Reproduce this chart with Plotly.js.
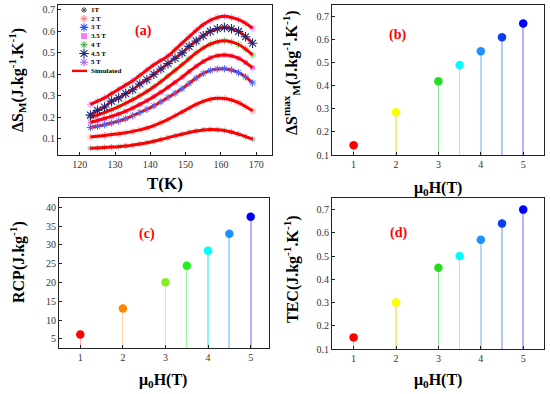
<!DOCTYPE html>
<html><head><meta charset="utf-8">
<script src="https://cdn.plot.ly/plotly-3.0.1.min.js"></script>
<style>body{margin:0;background:#fff}#chart{width:550px;height:394px}</style>
</head><body><div id="chart"></div>
<script>
// ---- Data ----
const T = [123,125,127,129,131,133,135,137,139,141,143,145,147,149,151,153,155,157,159,161,163,165,167,169];
const ds1T  = [0.055,0.057,0.059,0.061,0.063,0.066,0.070,0.075,0.081,0.088,0.096,0.105,0.113,0.121,0.129,0.136,0.141,0.143,0.142,0.138,0.131,0.121,0.110,0.098];
const ds2T  = [0.108,0.111,0.115,0.119,0.123,0.128,0.134,0.141,0.150,0.161,0.175,0.190,0.207,0.225,0.243,0.260,0.274,0.284,0.288,0.287,0.280,0.268,0.250,0.230];
const ds3T  = [0.152,0.158,0.165,0.173,0.182,0.193,0.207,0.222,0.237,0.253,0.272,0.292,0.312,0.333,0.358,0.383,0.404,0.418,0.425,0.426,0.420,0.408,0.388,0.360];
const ds35T = [0.177,0.185,0.194,0.204,0.215,0.228,0.243,0.260,0.277,0.296,0.317,0.340,0.363,0.387,0.413,0.438,0.460,0.477,0.487,0.490,0.486,0.475,0.455,0.430];
const ds4T  = [0.200,0.210,0.222,0.235,0.249,0.265,0.282,0.300,0.320,0.342,0.366,0.392,0.418,0.445,0.473,0.500,0.523,0.541,0.552,0.556,0.551,0.539,0.518,0.490];
const ds45T = [0.210,0.232,0.248,0.275,0.290,0.310,0.328,0.355,0.375,0.400,0.425,0.450,0.475,0.500,0.530,0.555,0.580,0.600,0.612,0.618,0.612,0.600,0.575,0.545];
const ds5T  = [0.260,0.275,0.290,0.310,0.330,0.350,0.370,0.395,0.420,0.445,0.465,0.485,0.515,0.545,0.575,0.605,0.632,0.652,0.665,0.670,0.665,0.655,0.638,0.615];
const fieldLabels = ['1T','2 T','3 T','3.5 T','4 T','4.5 T','5 T'];
const simLabel = 'Simulated';

const H = [1,2,3,3.5,4,4.5,5];
const dsMax = [0.142,0.285,0.42,0.49,0.55,0.61,0.67];
const rcp   = [6.2,13.1,20.1,24.5,28.5,33,37.5];
const tec   = [0.15,0.30,0.45,0.50,0.57,0.64,0.70];

// ---- Styles ----
const colorsBD = ['#ff0000','#ffff00','#22dd22','#00ffff','#1e90ff','#0a3cf5','#0000ff'];
const colorsC  = ['#ff0000','#ff8800','#88ee22','#22ee22','#00ffff','#1e90ff','#0000ff'];
const stemsBD  = ['rgba(255,0,0,0.35)','rgba(220,220,0,0.45)','rgba(34,200,34,0.5)','rgba(0,230,230,0.45)','rgba(30,144,255,0.35)','rgba(10,60,245,0.3)','rgba(0,0,255,0.3)'];
const stemsC   = ['rgba(255,0,0,0.3)','rgba(255,136,0,0.35)','rgba(136,238,34,0.45)','rgba(34,238,34,0.45)','rgba(0,230,230,0.45)','rgba(30,144,255,0.35)','rgba(0,0,255,0.3)'];
const stemW    = [0.025,0.025,0.03,0.03,0.04,0.05,0.05];

const mk = [
  {symbol:'asterisk-open', size:5, color:'#555555', w:1},
  {symbol:'asterisk-open', size:6, color:'#ff7a7a', w:1},
  {symbol:'asterisk-open', size:7, color:'#2f4dff', w:1.1},
  {symbol:'square', size:3.5, color:'#ff77ff', w:0},
  {symbol:'asterisk-open', size:6, color:'#33aa33', w:1},
  {symbol:'asterisk-open', size:8, color:'#1a2a80', w:1.1},
  {symbol:'asterisk-open', size:7, color:'#9955ff', w:1}
];
const mkPlot = [
  {size:5, color:'#999999'}, {size:6, color:'#ffaaaa'}, null, {size:4, color:'#ff88ff'},
  {size:6, color:'#77cc77'}, null, {size:6, color:'#dd99ff'}
];
const series = [ds1T, ds2T, ds3T, ds35T, ds4T, ds45T, ds5T];
const FONT = 'Liberation Serif, Times New Roman, serif';

const traces = [];
// faint measured markers (under the curves)
[0,1,3,4,6].forEach(i => traces.push({x:T, y:series[i], type:'scatter', mode:'markers', xaxis:'x', yaxis:'y',
  marker:{symbol:mk[i].symbol, size:mkPlot[i].size, color:mkPlot[i].color, line:{width:1, color:mkPlot[i].color}}, hoverinfo:'skip'}));
// simulated curves
series.forEach(s => traces.push({x:T, y:s, type:'scatter', mode:'lines', xaxis:'x', yaxis:'y',
  line:{color:'#ff0000', width:3, shape:'spline', smoothing:1}, hoverinfo:'skip'}));
// prominent markers on top
traces.push({x:T, y:ds3T, type:'scatter', mode:'markers', xaxis:'x', yaxis:'y',
  marker:{symbol:'asterisk-open', size:6, color:'#4a66ff', line:{width:1, color:'#4a66ff'}}, hoverinfo:'skip'});
traces.push({x:T, y:ds45T, type:'scatter', mode:'markers', xaxis:'x', yaxis:'y',
  marker:{symbol:'asterisk-open', size:8, color:'#1a2a80', line:{width:1.1, color:'#1a2a80'}}, hoverinfo:'skip'});

// stems + points
function stemPanel(vals, stemCols, cols, xa, ya){
  traces.push({x:H, y:vals, type:'bar', width:stemW, xaxis:xa, yaxis:ya, marker:{color:stemCols, line:{width:0}}, hoverinfo:'skip'});
  traces.push({x:H, y:vals, type:'scatter', mode:'markers', xaxis:xa, yaxis:ya, marker:{size:8.5, color:cols}, hoverinfo:'skip'});
}
stemPanel(dsMax, stemsBD, colorsBD, 'x2', 'y2');
stemPanel(rcp, stemsC, colorsC, 'x3', 'y3');
stemPanel(tec, stemsBD, colorsBD, 'x4', 'y4');

// legend for panel (a), drawn on a pixel-scaled overlay axis
const legX = 84, legY0 = 10, legDy = 8.7;
fieldLabels.forEach((lab, i) => traces.push({x:[legX], y:[legY0 + i*legDy], type:'scatter', mode:'markers', xaxis:'x5', yaxis:'y5',
  marker:{symbol:mk[i].symbol, size:Math.max(mk[i].size,5), color:mk[i].color, line:{width:Math.max(mk[i].w,1), color:mk[i].color}}, hoverinfo:'skip'}));
traces.push({x:[72,87], y:[legY0 + 7*legDy, legY0 + 7*legDy], type:'scatter', mode:'lines', xaxis:'x5', yaxis:'y5',
  line:{color:'#ff0000', width:2.4}, hoverinfo:'skip'});

const ax = {showline:true, linecolor:'#222', linewidth:1, mirror:true, ticks:'inside', ticklen:3, tickcolor:'#222',
  tickfont:{family:FONT, size:10, color:'#333'}, showgrid:false, zeroline:false, fixedrange:true};
const dom = (a,b,W) => [a/W, b/W];
const ydom = (top,bot) => [1-bot/394, 1-top/394];

const annotations = [];
const titleFont = {family:FONT, size:16, color:'#000'};
function ann(text, x, y, opts){ annotations.push(Object.assign({text, x, y, xref:'paper', yref:'paper', showarrow:false, xanchor:'center', yanchor:'middle'}, opts)); }
// axis titles
ann('<b>ΔS<sub>M</sub>(J.kg<sup>-1</sup>.K<sup>-1</sup>)</b>', 17/550, 1-80/394, {textangle:-90, font:titleFont});
ann('<b>T(K)</b>', 165/550, 1-183/394, {font:{family:FONT, size:17, color:'#000'}});
ann('<b>ΔS<sup>max</sup><sub>M</sub>(J.kg<sup>-1</sup>.K<sup>-1</sup>)</b>', 291/550, 1-73/394, {textangle:-90, font:titleFont});
ann('<b>μ<sub>0</sub>H(T)</b>', 438/550, 1-188/394, {font:titleFont});
ann('<b>RCP(J.kg<sup>-1</sup>)</b>', 17/550, 1-262/394, {textangle:-90, font:titleFont});
ann('<b>μ<sub>0</sub>H(T)</b>', 163/550, 1-380/394, {font:titleFont});
ann('<b>TEC(J.kg<sup>-1</sup>.K<sup>-1</sup>)</b>', 291/550, 1-269/394, {textangle:-90, font:titleFont});
ann('<b>μ<sub>0</sub>H(T)</b>', 438/550, 1-380/394, {font:titleFont});
// panel letters
const letterFont = {family:FONT, size:14, color:'#ff0000'};
ann('<b>(a)</b>', 143/550, 1-31/394, {font:letterFont});
ann('<b>(b)</b>', 397/550, 1-35/394, {font:letterFont});
ann('<b>(c)</b>', 147/550, 1-234/394, {font:letterFont});
ann('<b>(d)</b>', 398/550, 1-233/394, {font:letterFont});
// legend texts
fieldLabels.concat([simLabel]).forEach((lab, i) => annotations.push({text:'<b>'+lab+'</b>', x:89, y:legY0 + i*legDy, xref:'x5', yref:'y5',
  showarrow:false, xanchor:'left', yanchor:'middle', font:{family:FONT, size:7, color:'#000'}}));

const layout = {
  width:550, height:394, margin:{l:0,r:0,t:0,b:0}, showlegend:false,
  paper_bgcolor:'#fff', plot_bgcolor:'rgba(0,0,0,0)', bargap:0,
  xaxis: Object.assign({}, ax, {domain:dom(58,272,550), anchor:'y', range:[113.8,174.5], tick0:120, dtick:10}),
  yaxis: Object.assign({}, ax, {domain:ydom(5,155), anchor:'x', range:[0.024,0.723], tick0:0, dtick:0.1}),
  xaxis2: Object.assign({}, ax, {domain:dom(332,544,550), anchor:'y2', range:[0.49,5.49], tickvals:[1,2,3,4,5]}),
  yaxis2: Object.assign({}, ax, {domain:ydom(5,155), anchor:'x2', range:[0.1,0.75], tick0:0, dtick:0.1}),
  xaxis3: Object.assign({}, ax, {domain:dom(59,269,550), anchor:'y3', range:[0.5,5.43], tickvals:[1,2,3,4,5]}),
  yaxis3: Object.assign({}, ax, {domain:ydom(198,348), anchor:'x3', range:[2.6,42.5], tick0:0, dtick:5}),
  xaxis4: Object.assign({}, ax, {domain:dom(332,544,550), anchor:'y4', range:[0.49,5.49], tickvals:[1,2,3,4,5]}),
  yaxis4: Object.assign({}, ax, {domain:ydom(198,349), anchor:'x4', range:[0.1,0.75], tick0:0, dtick:0.1}),
  xaxis5: {domain:[0,1], anchor:'y5', range:[0,550], visible:false, fixedrange:true},
  yaxis5: {domain:[0,1], anchor:'x5', range:[394,0], visible:false, fixedrange:true},
  annotations
};
Plotly.newPlot('chart', traces, layout, {staticPlot:true, displayModeBar:false});
</script></body></html>
